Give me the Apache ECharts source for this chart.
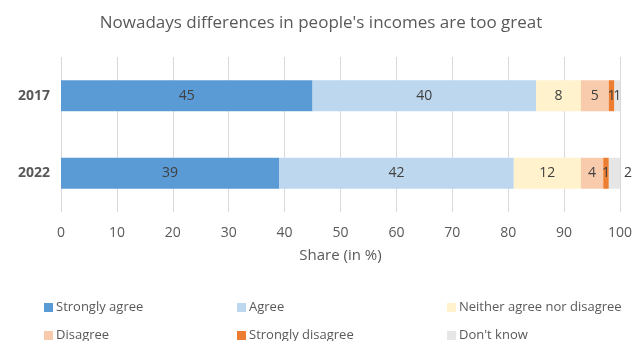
<!DOCTYPE html>
<html>
<head>
<meta charset="utf-8">
<script src="https://cdn.jsdelivr.net/npm/echarts@6/dist/echarts.min.js"></script>
<style>
  html, body { margin: 0; padding: 0; background: #fff; }
  #chart { width: 642px; height: 341px; }
</style>
</head>
<body>
<div id="chart"></div>
<script>
// Survey years (top to bottom)
const years = ['2017', '2022'];

// Answer shares per year, in %
const stronglyAgree    = [45, 39];
const agree            = [40, 42];
const neither          = [8, 12];
const disagree         = [5, 4];
const stronglyDisagree = [1, 1];
const dontKnow         = [1, 2];

const xTicks = [0, 10, 20, 30, 40, 50, 60, 70, 80, 90, 100];

const FONT = 'Open Sans';
const TEXT = '#595959';

const seriesDefs = [
  { name: 'Strongly agree', data: stronglyAgree, color: '#5B9BD5' },
  { name: 'Agree', data: agree, color: '#BDD7EE' },
  { name: 'Neither agree nor disagree', data: neither, color: '#FFF2CC' },
  { name: 'Disagree', data: disagree, color: '#F8CBAD' },
  { name: 'Strongly disagree', data: stronglyDisagree, color: '#ED7D31' },
  { name: "Don't know", data: dontKnow, color: '#E7E6E6' }
];

const chart = echarts.init(document.getElementById('chart'), null, { renderer: 'canvas' });

const series = seriesDefs.map(function (s, si) {
  return {
    name: s.name,
    type: 'bar',
    stack: 'total',
    barWidth: 31,
    itemStyle: { color: s.color },
    emphasis: { disabled: true },
    label: {
      show: true,
      position: 'inside',
      color: '#404040',
      fontFamily: FONT,
      fontSize: 14
    },
    data: s.data.map(function (v, i) {
      const item = { value: v };
      // the narrow last segment of 2022 carries its label outside
      if (si === seriesDefs.length - 1 && i === 1) {
        item.label = { position: 'right', distance: 4 };
      }
      return item;
    })
  };
});

// legend: three columns, two rows
const legendCols = [44, 237, 447];
const legendRows = [301, 329];
const legends = seriesDefs.map(function (s, i) {
  return {
    left: legendCols[i % 3],
    top: legendRows[Math.floor(i / 3)],
    itemWidth: 9,
    itemHeight: 9,
    itemGap: 0,
    padding: 0,
    icon: 'rect',
    selectedMode: false,
    textStyle: { color: TEXT, fontFamily: FONT, fontSize: 13, padding: [0, 0, 0, -2] },
    data: [s.name]
  };
});

chart.setOption({
  animation: false,
  title: {
    text: "Nowadays differences in people's incomes are too great",
    left: 'center',
    top: 10,
    textStyle: { color: TEXT, fontFamily: FONT, fontSize: 17, fontWeight: 'normal' }
  },
  legend: legends,
  grid: { left: 61, right: 22, top: 57, bottom: 129 },
  xAxis: {
    type: 'value',
    min: xTicks[0],
    max: xTicks[xTicks.length - 1],
    interval: 10,
    name: 'Share (in %)',
    nameLocation: 'middle',
    nameGap: 36,
    nameTextStyle: { color: TEXT, fontFamily: FONT, fontSize: 15 },
    axisLine: { show: false },
    axisTick: { show: false },
    axisLabel: { color: TEXT, fontFamily: FONT, fontSize: 14, margin: 14 },
    splitLine: { show: true, lineStyle: { color: '#D9D9D9', width: 1 } }
  },
  yAxis: {
    type: 'category',
    data: years,
    inverse: true,
    axisLine: { show: false },
    axisTick: { show: false },
    axisLabel: { color: TEXT, fontFamily: FONT, fontSize: 14, fontWeight: 'bold', margin: 11 }
  },
  series: series
});
</script>
</body>
</html>
